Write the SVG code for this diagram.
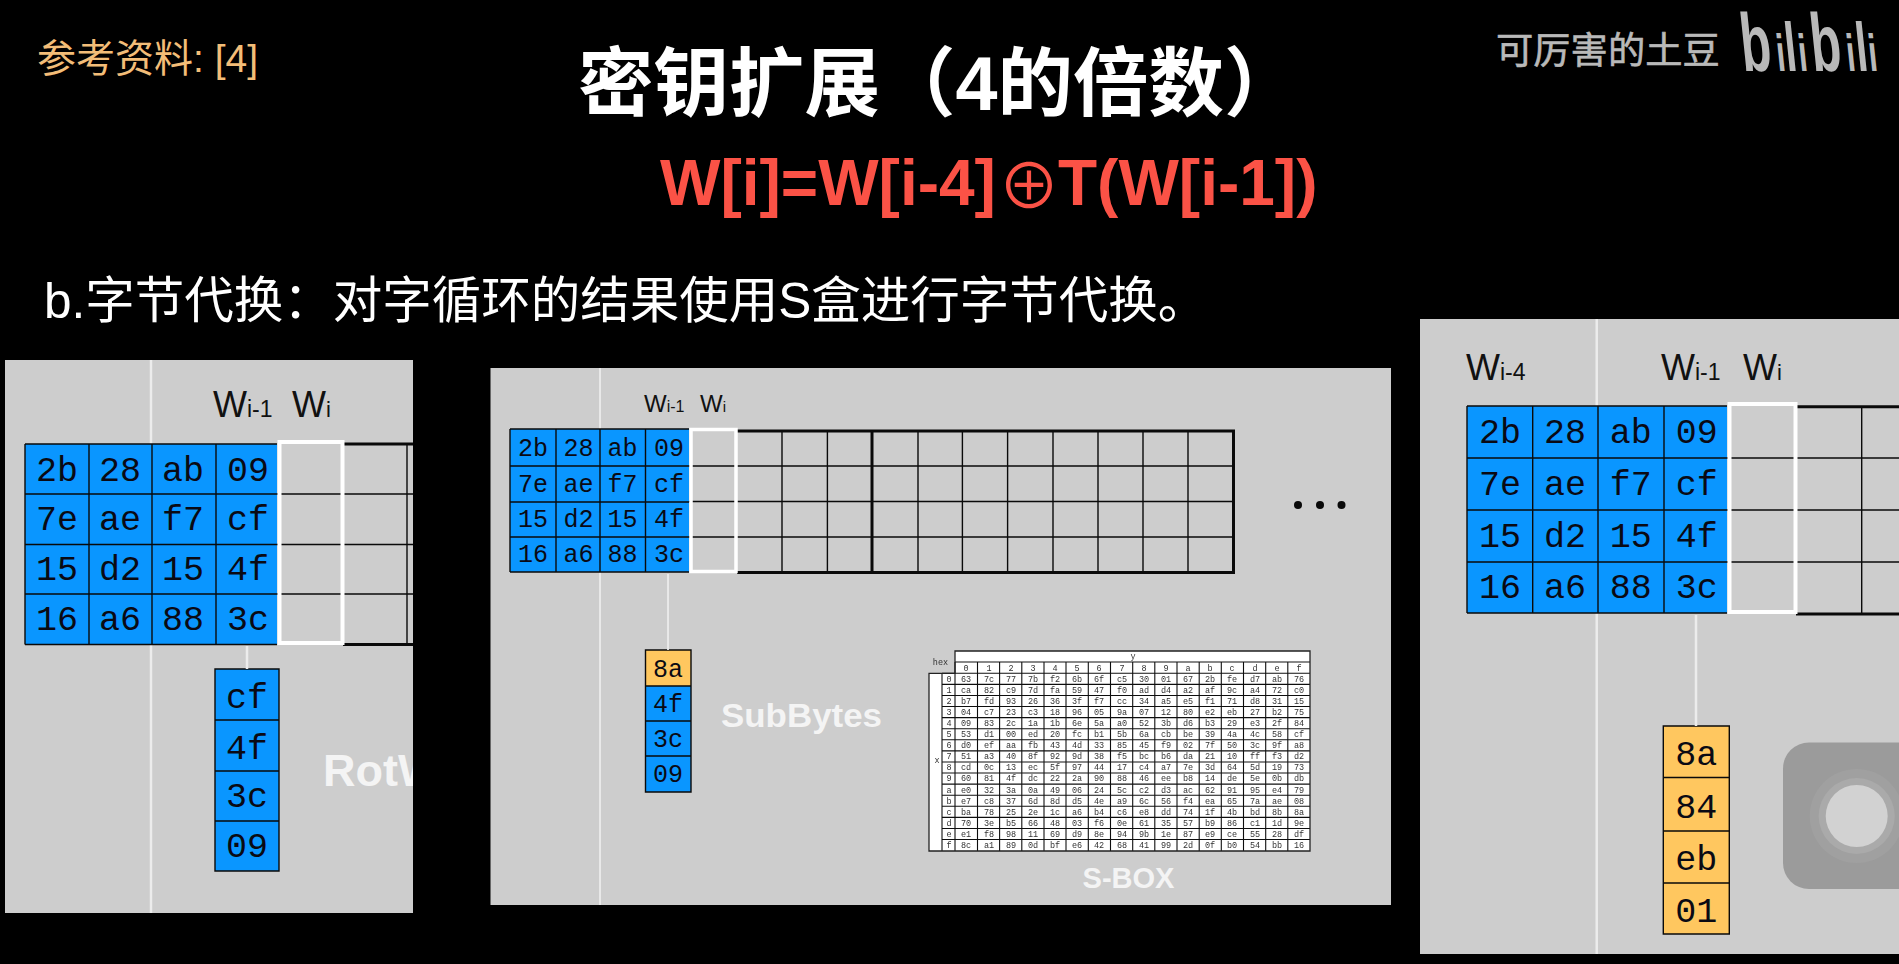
<svg xmlns="http://www.w3.org/2000/svg" width="1899" height="964" viewBox="0 0 1899 964">
<style>
.panel{fill:#cdcdcd}
.blue{fill:#0a96ff}
.or{fill:#ffc75f}
.ln{fill:none;stroke:#0a0a0a;stroke-width:1.4}
.thk{fill:none;stroke:#0a0a0a;stroke-width:3}
.sel{fill:none;stroke:#fff;stroke-width:4}
.vl{stroke:#ececec;stroke-width:2.5;fill:none}
.m{font-family:"Liberation Mono",monospace;text-anchor:middle;fill:#0a0a14}
.m35{font-size:35px}
.m24{font-size:25px}
.w{font-family:"Liberation Sans",Arial,sans-serif;fill:#111}
.w1{font-size:36px}
.w2{font-size:24px}
.wb{font-family:"Liberation Sans",Arial,sans-serif;font-weight:700;fill:#f4f4f4}
.cjk{font-family:"Liberation Sans","Noto Sans CJK SC",sans-serif}
.s text{font-family:"Liberation Mono",monospace;font-size:8.5px;text-anchor:middle;fill:#333}
</style>
<defs>
<clipPath id="c1"><rect x="5" y="360" width="408" height="553"/></clipPath>
<filter id="soft" x="-5%" y="-5%" width="110%" height="110%"><feGaussianBlur stdDeviation="0.35"/></filter>
</defs>
<rect width="1899" height="964" fill="#000"/>
<g id="reference"><text class="cjk" x="37" y="72" font-size="39" fill="#f3bd78">参考资料: [4]</text></g>
<g id="title"><text class="cjk" x="578" y="110" font-size="75.500" font-weight="700" fill="#fff">密钥扩展（4的倍数）</text></g>
<g id="formula"><text x="660" y="205" font-family="Liberation Sans, Arial, sans-serif" font-weight="700" font-size="64" fill="#fb5246">W[i]=W[i-4]<tspan x="998" y="209" font-family="Noto Sans CJK SC, sans-serif" font-weight="400" font-size="62">⊕</tspan><tspan x="1058" y="205">T(W[i-1])</tspan></text></g>
<g id="subtitle"><text class="cjk" x="44" y="318" font-size="49.500" fill="#fff">b.字节代换：对字循环的结果使用S盒进行字节代换。</text></g>
<g id="watermark"><text class="cjk" x="1496" y="64" font-size="37.300" stroke="#b9b9b9" stroke-width="0.6" fill="#b9b9b9">可厉害的土豆</text>
<text transform="translate(1743 71) skewX(6) scale(1 1.64)" font-family="Liberation Sans, sans-serif" font-weight="700" font-size="50" fill="#b9b9b9">b<tspan x="35" font-size="32">i</tspan><tspan x="44" font-size="42">l</tspan><tspan x="57" font-size="32">i</tspan><tspan x="70">b</tspan><tspan x="105" font-size="32">i</tspan><tspan x="115" font-size="42">l</tspan><tspan x="127" font-size="32">i</tspan></text></g>

<g id="panel-rotword">
<rect class="panel" x="5" y="360" width="408" height="553"/>
<path class="vl" d="M151 360V913"/>
<rect class="blue" x="25" y="444" width="252" height="201"/>
<path class="ln" d="M25 444H277M25 494H277M25 544.500H277M25 594H277M25 644.500H277M25 444V644.500M89 444V644.500M152 444V644.500M216 444V644.500"/>
<path class="ln" d="M277 494H413M277 544.500H413M277 594H413M407 444V644.500"/>
<path class="thk" d="M343 444H413M343 644.500H413"/>
<rect class="sel" x="279.500" y="442" width="63" height="201"/>
<text class="w w1" x="213" y="417">W<tspan font-size="23">i-1</tspan></text>
<text class="w w1" x="292" y="417">W<tspan font-size="22">i</tspan></text>
<g class="m m35">
<text x="57" y="481">2b</text><text x="120" y="481">28</text><text x="183" y="481">ab</text><text x="248" y="481">09</text>
<text x="57" y="530">7e</text><text x="120" y="530">ae</text><text x="183" y="530">f7</text><text x="248" y="530">cf</text>
<text x="57" y="580">15</text><text x="120" y="580">d2</text><text x="183" y="580">15</text><text x="248" y="580">4f</text>
<text x="57" y="630">16</text><text x="120" y="630">a6</text><text x="183" y="630">88</text><text x="248" y="630">3c</text>
</g>
<rect class="blue" x="215" y="669" width="64" height="202"/>
<path class="ln" d="M215 669H279V871H215ZM215 720H279M215 771H279M215 821H279"/>
<g class="m m35"><text x="247" y="708">cf</text><text x="247" y="759">4f</text><text x="247" y="807">3c</text><text x="247" y="857">09</text></g>
<g clip-path="url(#c1)"><text class="wb" x="323" y="786" font-size="45">RotW</text></g>
</g>

<g id="panel-subbytes">
<rect class="panel" x="490.500" y="368" width="900.500" height="537"/>
<path class="vl" d="M600 368V905" style="stroke-width:1.800"/>
<rect class="blue" x="510" y="429" width="179" height="143"/>
<path class="ln" d="M510 429H689M510 466H689M510 502H689M510 537H689M510 572H689M510 429V572M556 429V572M600 429V572M645.500 429V572"/>
<path class="ln" d="M689 466H1233.500M689 501.500H1233.500M689 537H1233.500M782 431V572.500M827.400 431V572.500M918 431V572.500M962.400 431V572.500M1007.600 431V572.500M1053 431V572.500M1098 431V572.500M1143 431V572.500M1188 431V572.500"/>
<path class="thk" d="M737 431H1233.500V572.500H737M872 431V572.500"/>
<rect class="sel" x="691" y="429.500" width="45" height="142" style="stroke-width:3.500"/>
<text class="w w2" x="644" y="412">W<tspan font-size="16">i-1</tspan></text>
<text class="w w2" x="700" y="412">W<tspan font-size="15">i</tspan></text>
<g class="m m24">
<text x="533" y="456">2b</text><text x="578.600" y="456">28</text><text x="622.600" y="456">ab</text><text x="669" y="456">09</text>
<text x="533" y="492">7e</text><text x="578.600" y="492">ae</text><text x="622.600" y="492">f7</text><text x="669" y="492">cf</text>
<text x="533" y="527">15</text><text x="578.600" y="527">d2</text><text x="622.600" y="527">15</text><text x="669" y="527">4f</text>
<text x="533" y="562">16</text><text x="578.600" y="562">a6</text><text x="622.600" y="562">88</text><text x="669" y="562">3c</text>
</g>
<circle cx="1298" cy="505" r="4" fill="#0a0a0a"/><circle cx="1320" cy="505" r="4" fill="#0a0a0a"/><circle cx="1341.500" cy="505" r="4" fill="#0a0a0a"/>
<rect class="or" x="645.500" y="650" width="45.500" height="36"/>
<rect class="blue" x="645.500" y="686" width="45.500" height="106"/>
<path class="ln" d="M645.500 650H691V792H645.500ZM645.500 686H691M645.500 721H691M645.500 756H691"/>
<g class="m m24"><text x="668" y="677">8a</text><text x="668" y="712">4f</text><text x="668" y="747">3c</text><text x="668" y="782">09</text></g>
<text class="wb" x="721" y="727" font-size="33" textLength="161" lengthAdjust="spacingAndGlyphs">SubBytes</text>
</g>

<g id="s-box" class="s" filter="url(#soft)">
<rect x="955" y="651" width="355" height="200" fill="#fff"/>
<rect x="929" y="673.300" width="26" height="177.700" fill="#fff"/>
<path d="M955 662H1310M942 673.300H1310M942 684.400H1310M942 695.500H1310M942 706.500H1310M942 717.600H1310M942 728.700H1310M942 739.800H1310M942 750.900H1310M942 762H1310M942 773H1310M942 784.100H1310M942 795.200H1310M942 806.300H1310M942 817.400H1310M942 828.500H1310M942 839.500H1310M955 662V851M977.500 662V851M999.600 662V851M1021.800 662V851M1044 662V851M1066 662V851M1088.300 662V851M1110.500 662V851M1132.700 662V851M1154.800 662V851M1177 662V851M1199.200 662V851M1221.300 662V851M1243.500 662V851M1265.700 662V851M1287.800 662V851M942 673.300V851" fill="none" stroke="#111" stroke-width="1.100"/>
<path d="M955 651H1310V851H929V673.300H955Z" fill="none" stroke="#222" stroke-width="1.300"/>
<text x="940.500" y="665">hex</text><text x="1133" y="659">y</text><text x="937" y="763">x</text>
<g transform="translate(0 670.600)"><text x="966">0</text><text x="989">1</text><text x="1011">2</text><text x="1033">3</text><text x="1055">4</text><text x="1077">5</text><text x="1099">6</text><text x="1122">7</text><text x="1144">8</text><text x="1166">9</text><text x="1188">a</text><text x="1210">b</text><text x="1232">c</text><text x="1255">d</text><text x="1277">e</text><text x="1299">f</text></g>
<g transform="translate(0 681.600)"><text x="949">0</text><text x="966">63</text><text x="989">7c</text><text x="1011">77</text><text x="1033">7b</text><text x="1055">f2</text><text x="1077">6b</text><text x="1099">6f</text><text x="1122">c5</text><text x="1144">30</text><text x="1166">01</text><text x="1188">67</text><text x="1210">2b</text><text x="1232">fe</text><text x="1255">d7</text><text x="1277">ab</text><text x="1299">76</text></g>
<g transform="translate(0 692.700)"><text x="949">1</text><text x="966">ca</text><text x="989">82</text><text x="1011">c9</text><text x="1033">7d</text><text x="1055">fa</text><text x="1077">59</text><text x="1099">47</text><text x="1122">f0</text><text x="1144">ad</text><text x="1166">d4</text><text x="1188">a2</text><text x="1210">af</text><text x="1232">9c</text><text x="1255">a4</text><text x="1277">72</text><text x="1299">c0</text></g>
<g transform="translate(0 703.800)"><text x="949">2</text><text x="966">b7</text><text x="989">fd</text><text x="1011">93</text><text x="1033">26</text><text x="1055">36</text><text x="1077">3f</text><text x="1099">f7</text><text x="1122">cc</text><text x="1144">34</text><text x="1166">a5</text><text x="1188">e5</text><text x="1210">f1</text><text x="1232">71</text><text x="1255">d8</text><text x="1277">31</text><text x="1299">15</text></g>
<g transform="translate(0 714.900)"><text x="949">3</text><text x="966">04</text><text x="989">c7</text><text x="1011">23</text><text x="1033">c3</text><text x="1055">18</text><text x="1077">96</text><text x="1099">05</text><text x="1122">9a</text><text x="1144">07</text><text x="1166">12</text><text x="1188">80</text><text x="1210">e2</text><text x="1232">eb</text><text x="1255">27</text><text x="1277">b2</text><text x="1299">75</text></g>
<g transform="translate(0 726)"><text x="949">4</text><text x="966">09</text><text x="989">83</text><text x="1011">2c</text><text x="1033">1a</text><text x="1055">1b</text><text x="1077">6e</text><text x="1099">5a</text><text x="1122">a0</text><text x="1144">52</text><text x="1166">3b</text><text x="1188">d6</text><text x="1210">b3</text><text x="1232">29</text><text x="1255">e3</text><text x="1277">2f</text><text x="1299">84</text></g>
<g transform="translate(0 737)"><text x="949">5</text><text x="966">53</text><text x="989">d1</text><text x="1011">00</text><text x="1033">ed</text><text x="1055">20</text><text x="1077">fc</text><text x="1099">b1</text><text x="1122">5b</text><text x="1144">6a</text><text x="1166">cb</text><text x="1188">be</text><text x="1210">39</text><text x="1232">4a</text><text x="1255">4c</text><text x="1277">58</text><text x="1299">cf</text></g>
<g transform="translate(0 748.100)"><text x="949">6</text><text x="966">d0</text><text x="989">ef</text><text x="1011">aa</text><text x="1033">fb</text><text x="1055">43</text><text x="1077">4d</text><text x="1099">33</text><text x="1122">85</text><text x="1144">45</text><text x="1166">f9</text><text x="1188">02</text><text x="1210">7f</text><text x="1232">50</text><text x="1255">3c</text><text x="1277">9f</text><text x="1299">a8</text></g>
<g transform="translate(0 759.200)"><text x="949">7</text><text x="966">51</text><text x="989">a3</text><text x="1011">40</text><text x="1033">8f</text><text x="1055">92</text><text x="1077">9d</text><text x="1099">38</text><text x="1122">f5</text><text x="1144">bc</text><text x="1166">b6</text><text x="1188">da</text><text x="1210">21</text><text x="1232">10</text><text x="1255">ff</text><text x="1277">f3</text><text x="1299">d2</text></g>
<g transform="translate(0 770.300)"><text x="949">8</text><text x="966">cd</text><text x="989">0c</text><text x="1011">13</text><text x="1033">ec</text><text x="1055">5f</text><text x="1077">97</text><text x="1099">44</text><text x="1122">17</text><text x="1144">c4</text><text x="1166">a7</text><text x="1188">7e</text><text x="1210">3d</text><text x="1232">64</text><text x="1255">5d</text><text x="1277">19</text><text x="1299">73</text></g>
<g transform="translate(0 781.400)"><text x="949">9</text><text x="966">60</text><text x="989">81</text><text x="1011">4f</text><text x="1033">dc</text><text x="1055">22</text><text x="1077">2a</text><text x="1099">90</text><text x="1122">88</text><text x="1144">46</text><text x="1166">ee</text><text x="1188">b8</text><text x="1210">14</text><text x="1232">de</text><text x="1255">5e</text><text x="1277">0b</text><text x="1299">db</text></g>
<g transform="translate(0 792.500)"><text x="949">a</text><text x="966">e0</text><text x="989">32</text><text x="1011">3a</text><text x="1033">0a</text><text x="1055">49</text><text x="1077">06</text><text x="1099">24</text><text x="1122">5c</text><text x="1144">c2</text><text x="1166">d3</text><text x="1188">ac</text><text x="1210">62</text><text x="1232">91</text><text x="1255">95</text><text x="1277">e4</text><text x="1299">79</text></g>
<g transform="translate(0 803.600)"><text x="949">b</text><text x="966">e7</text><text x="989">c8</text><text x="1011">37</text><text x="1033">6d</text><text x="1055">8d</text><text x="1077">d5</text><text x="1099">4e</text><text x="1122">a9</text><text x="1144">6c</text><text x="1166">56</text><text x="1188">f4</text><text x="1210">ea</text><text x="1232">65</text><text x="1255">7a</text><text x="1277">ae</text><text x="1299">08</text></g>
<g transform="translate(0 814.600)"><text x="949">c</text><text x="966">ba</text><text x="989">78</text><text x="1011">25</text><text x="1033">2e</text><text x="1055">1c</text><text x="1077">a6</text><text x="1099">b4</text><text x="1122">c6</text><text x="1144">e8</text><text x="1166">dd</text><text x="1188">74</text><text x="1210">1f</text><text x="1232">4b</text><text x="1255">bd</text><text x="1277">8b</text><text x="1299">8a</text></g>
<g transform="translate(0 825.700)"><text x="949">d</text><text x="966">70</text><text x="989">3e</text><text x="1011">b5</text><text x="1033">66</text><text x="1055">48</text><text x="1077">03</text><text x="1099">f6</text><text x="1122">0e</text><text x="1144">61</text><text x="1166">35</text><text x="1188">57</text><text x="1210">b9</text><text x="1232">86</text><text x="1255">c1</text><text x="1277">1d</text><text x="1299">9e</text></g>
<g transform="translate(0 836.800)"><text x="949">e</text><text x="966">e1</text><text x="989">f8</text><text x="1011">98</text><text x="1033">11</text><text x="1055">69</text><text x="1077">d9</text><text x="1099">8e</text><text x="1122">94</text><text x="1144">9b</text><text x="1166">1e</text><text x="1188">87</text><text x="1210">e9</text><text x="1232">ce</text><text x="1255">55</text><text x="1277">28</text><text x="1299">df</text></g>
<g transform="translate(0 847.900)"><text x="949">f</text><text x="966">8c</text><text x="989">a1</text><text x="1011">89</text><text x="1033">0d</text><text x="1055">bf</text><text x="1077">e6</text><text x="1099">42</text><text x="1122">68</text><text x="1144">41</text><text x="1166">99</text><text x="1188">2d</text><text x="1210">0f</text><text x="1232">b0</text><text x="1255">54</text><text x="1277">bb</text><text x="1299">16</text></g>
</g>
<g id="s-box-label"><text class="wb" x="1082.500" y="888" font-size="29" textLength="92" lengthAdjust="spacingAndGlyphs">S-BOX</text></g>

<g id="panel-rcon">
<rect class="panel" x="1420" y="319" width="479" height="635"/>
<path class="vl" d="M1596.700 319V954"/>
<rect class="blue" x="1467" y="406" width="260" height="207"/>
<path class="ln" d="M1467 406H1727M1467 458H1727M1467 510H1727M1467 562H1727M1467 613H1727M1467 406V613M1532.700 406V613M1598 406V613M1664 406V613"/>
<path class="ln" d="M1727 458H1899M1727 510H1899M1727 562H1899M1861.700 406V614"/>
<path class="thk" d="M1796 406.700H1899M1796 614H1899"/>
<rect class="sel" x="1729.500" y="404" width="66" height="208"/>
<text class="w w1" x="1466" y="380">W<tspan font-size="23">i-4</tspan></text>
<text class="w w1" x="1661" y="380">W<tspan font-size="23">i-1</tspan></text>
<text class="w w1" x="1743" y="380">W<tspan font-size="22">i</tspan></text>
<g class="m m35">
<text x="1500" y="443">2b</text><text x="1565" y="443">28</text><text x="1630.700" y="443">ab</text><text x="1696.700" y="443">09</text>
<text x="1500" y="495">7e</text><text x="1565" y="495">ae</text><text x="1630.700" y="495">f7</text><text x="1696.700" y="495">cf</text>
<text x="1500" y="547">15</text><text x="1565" y="547">d2</text><text x="1630.700" y="547">15</text><text x="1696.700" y="547">4f</text>
<text x="1500" y="598">16</text><text x="1565" y="598">a6</text><text x="1630.700" y="598">88</text><text x="1696.700" y="598">3c</text>
</g>
<rect class="or" x="1663.300" y="726" width="66" height="208"/>
<path class="ln" d="M1663.300 726H1729.300V934H1663.300ZM1663.300 777.500H1729.300M1663.300 831H1729.300M1663.300 883H1729.300"/>
<g class="m m35"><text x="1696.300" y="765">8a</text><text x="1696.300" y="817.500">84</text><text x="1696.300" y="870">eb</text><text x="1696.300" y="921.700">01</text></g>
<rect x="1783" y="742.500" width="140" height="146.500" rx="26" fill="#9b9b9b"/>
<circle cx="1856.700" cy="816" r="47" fill="#a0a0a0"/><circle cx="1856.700" cy="816" r="38" fill="#aaa"/><circle cx="1856.700" cy="816" r="31" fill="#d2d2d2"/>
</g>

<g id="connectors">
<path class="vl" d="M247 646V669"/>
<path class="vl" d="M668 574V650" style="stroke-width:1.800"/>
<path class="vl" d="M1696 615V726"/>
</g>
</svg>
